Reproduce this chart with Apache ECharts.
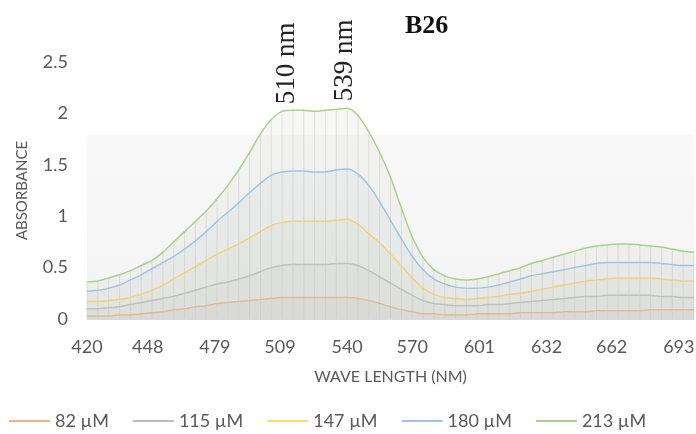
<!DOCTYPE html>
<html>
<head>
<meta charset="utf-8">
<script src="https://cdn.jsdelivr.net/npm/echarts@6/dist/echarts.min.js"></script>
<style>html,body{margin:0;padding:0;background:#fff}#c{width:696px;height:434px}</style>
</head>
<body>
<div id="c"></div>
<script>
// Wavelengths (nm)
const wavelengths = [420,425,430,435,440,445,450,455,460,465,470,475,480,485,490,495,500,505,510,515,520,525,530,535,540,545,550,555,560,565,570,575,580,585,590,595,600,605,610,615,620,625,630,635,640,645,650,655,660,665,670,675,680,685,690,695,700];
const seriesNames = ['82 µM','115 µM','147 µM','180 µM','213 µM'];
const xTickValues = [420,448,479,509,540,570,601,632,662,693];
const peakLabels = [[512,'510 nm'],[539,'539 nm']];

const abs82  = [0.03,0.03,0.03,0.04,0.04,0.05,0.06,0.07,0.09,0.10,0.12,0.13,0.15,0.16,0.17,0.18,0.19,0.20,0.21,0.21,0.21,0.21,0.21,0.21,0.21,0.20,0.18,0.15,0.12,0.09,0.07,0.05,0.05,0.04,0.04,0.04,0.05,0.05,0.05,0.05,0.06,0.06,0.06,0.06,0.07,0.07,0.07,0.08,0.08,0.08,0.08,0.08,0.09,0.09,0.09,0.09,0.09];
const abs115 = [0.10,0.10,0.11,0.12,0.14,0.16,0.18,0.20,0.22,0.25,0.28,0.31,0.34,0.36,0.39,0.42,0.46,0.50,0.52,0.53,0.53,0.53,0.53,0.54,0.54,0.52,0.47,0.41,0.35,0.29,0.23,0.18,0.15,0.14,0.13,0.13,0.13,0.14,0.14,0.15,0.16,0.17,0.18,0.19,0.20,0.21,0.22,0.22,0.23,0.23,0.23,0.23,0.23,0.22,0.22,0.21,0.21];
const abs147 = [0.17,0.17,0.18,0.19,0.21,0.24,0.28,0.33,0.39,0.45,0.51,0.57,0.63,0.68,0.73,0.79,0.85,0.91,0.94,0.95,0.95,0.95,0.95,0.96,0.97,0.92,0.83,0.74,0.63,0.52,0.40,0.30,0.24,0.21,0.20,0.19,0.20,0.21,0.22,0.24,0.25,0.27,0.29,0.31,0.33,0.35,0.37,0.38,0.39,0.40,0.40,0.40,0.40,0.39,0.38,0.37,0.37];
const abs180 = [0.27,0.28,0.30,0.33,0.38,0.43,0.49,0.55,0.61,0.68,0.76,0.85,0.95,1.04,1.13,1.23,1.32,1.40,1.43,1.44,1.44,1.43,1.43,1.45,1.46,1.41,1.30,1.14,0.96,0.78,0.61,0.48,0.39,0.34,0.31,0.30,0.30,0.31,0.33,0.36,0.39,0.42,0.44,0.46,0.48,0.50,0.52,0.54,0.55,0.55,0.55,0.55,0.55,0.54,0.53,0.52,0.52];
const abs213 = [0.36,0.37,0.40,0.43,0.47,0.52,0.57,0.65,0.75,0.85,0.95,1.05,1.17,1.30,1.45,1.62,1.80,1.94,2.02,2.03,2.03,2.02,2.03,2.04,2.05,1.98,1.82,1.62,1.38,1.08,0.80,0.60,0.48,0.42,0.39,0.38,0.39,0.41,0.44,0.47,0.50,0.54,0.57,0.60,0.63,0.66,0.69,0.71,0.72,0.73,0.73,0.72,0.71,0.70,0.68,0.66,0.65];

const allValues = [abs82, abs115, abs147, abs180, abs213];
const colors = ['#f4b183','#bdbdbd','#ffd966','#9dc3e6','#a9d18e'];
const areaColors = ['#cfc2b8','#c4c4c4','#d4cfb4','#b9c8d8','#c4d0bb'];
const txt = '#595959';
const FONT = 'Lato';

const pairs = v => wavelengths.map((w,i)=>[w, v[i]]);

const series = [{
  type:'bar', name:'_drop', silent:true, barWidth:1, z:1,
  data: pairs(abs213),
  itemStyle:{color:'rgba(170,170,170,0.3)'},
  legendHoverLink:false
}];
allValues.forEach((v,k)=>{
  const s = {
    type:'line', name:seriesNames[k], data:pairs(v), smooth:0.3,
    symbol:'none', z:2+k,
    lineStyle:{color:colors[k], width:1.5},
    itemStyle:{color:colors[k]},
    areaStyle:{color:areaColors[k], opacity:0.14, origin:'start'}
  };
  if (k===4){
    s.markPoint = {
      symbol:'circle', symbolSize:0, silent:true,
      data: peakLabels.map(p=>({coord:[p[0], v[wavelengths.indexOf(Math.round(p[0]/5)*5)]], value:p[1]})),
      label:{show:true, formatter:'{c}', rotate:90, position:'top', distance:7,
             align:'left', verticalAlign:'middle',
             fontFamily:'Liberation Serif', fontSize:27, color:'#222'}
    };
  }
  series.push(s);
});

const chart = echarts.init(document.getElementById('c'), null, {renderer:'canvas'});
chart.setOption({
  animation:false,
  backgroundColor:'#fff',
  title:{text:'B26', left:400, top:8,
    textStyle:{fontFamily:'Liberation Serif', fontWeight:'bold', fontSize:26, color:'#111'}},
  grid:{left:87, right:2, top:62, bottom:115, outerBoundsMode:'none', show:true, borderWidth:0,
    backgroundColor:{type:'linear', x:0, y:0, x2:0, y2:1, colorStops:[
      {offset:0,color:'#ffffff'},{offset:0.28,color:'#ffffff'},{offset:0.285,color:'#f9f9f9'},{offset:1,color:'#f3f3f3'}]}},
  legend:{data:seriesNames, left:4, top:407, icon:'rect', itemWidth:41, itemHeight:2, itemGap:24,
    textStyle:{fontFamily:FONT, fontSize:18, color:txt}},
  xAxis:{type:'value', min:420, max:700,
    name:'WAVE LENGTH (NM)', nameLocation:'middle', nameGap:50,
    nameTextStyle:{fontFamily:FONT, fontSize:16, color:txt},
    axisLine:{show:true, lineStyle:{color:'#d9d9d9'}}, axisTick:{show:false},
    splitLine:{show:false},
    axisLabel:{customValues:xTickValues, margin:19, fontFamily:FONT, fontSize:18, color:txt}},
  yAxis:{type:'value', min:0, max:2.5, interval:0.5,
    name:'ABSORBANCE', nameLocation:'middle', nameGap:57,
    nameTextStyle:{fontFamily:FONT, fontSize:15, color:txt},
    axisLine:{show:false}, axisTick:{show:false}, splitLine:{show:false},
    axisLabel:{margin:19, fontFamily:FONT, fontSize:18, color:txt}},
  series
});
</script>
</body>
</html>
